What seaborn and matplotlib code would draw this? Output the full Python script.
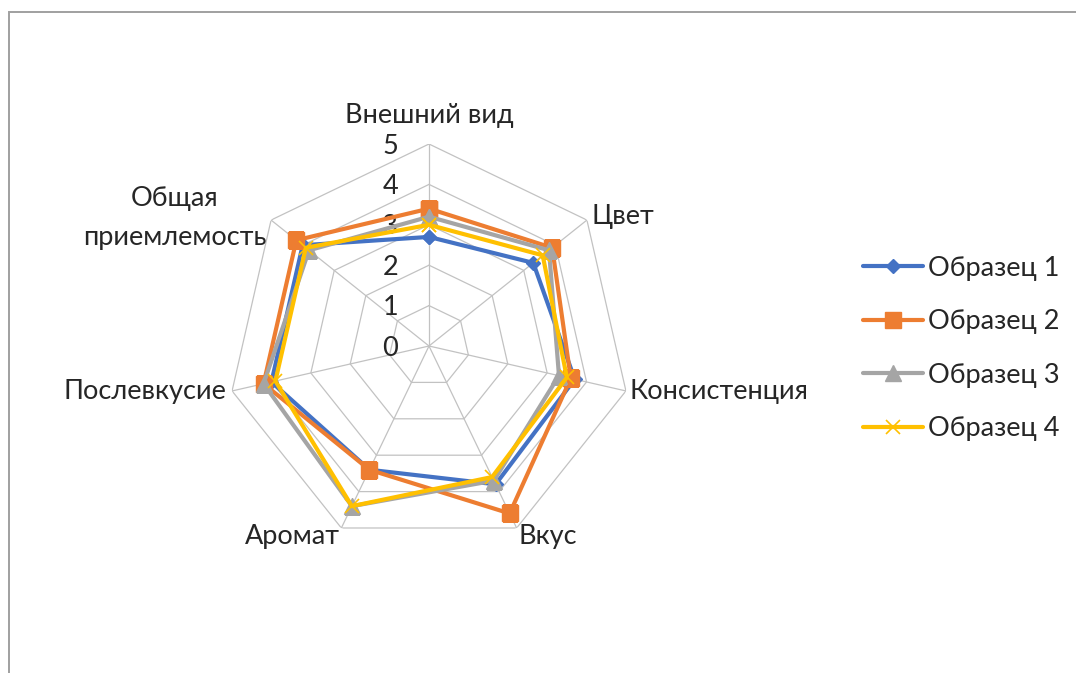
import numpy as np
import pandas as pd
import matplotlib
matplotlib.use("Agg")
import matplotlib.pyplot as plt
import seaborn as sns
from matplotlib.patches import Rectangle

# ---- data ----
categories = ["Внешний вид", "Цвет", "Консистенция", "Вкус", "Аромат",
              "Послевкусие", "Общая\nприемлемость"]
series_names = ["Образец 1", "Образец 2", "Образец 3", "Образец 4"]
sample1 = [2.7, 3.3, 3.7, 3.8, 3.4, 4.0, 4.0]
sample2 = [3.4, 3.9, 3.6, 4.6, 3.4, 4.2, 4.2]
sample3 = [3.2, 3.8, 3.3, 3.7, 4.4, 4.2, 3.8]
sample4 = [3.0, 3.6, 3.5, 3.6, 4.4, 3.9, 3.9]
radial_ticks = [0, 1, 2, 3, 4, 5]

# ---- style ----
sns.set_style("white")
plt.rcParams["font.family"] = ["Lato", "DejaVu Sans"]
TXT = "#262626"
FS = 19.5
PX = 0.72  # px -> pt at 100 dpi

fig = plt.figure(figsize=(10.76, 6.73), dpi=100)
ax = fig.add_axes([227 / 1076, 125 / 673, 404 / 1076, 404 / 673], projection="polar")
ax.set_theta_zero_location("N")
ax.set_theta_direction(-1)
ax.grid(False)
ax.spines["polar"].set_visible(False)
ax.patch.set_alpha(0)

n = len(categories)
theta = np.arange(n) * 2 * np.pi / n
theta_closed = np.append(theta, 2 * np.pi)

# polygon grid
for v in radial_ticks[1:]:
    ax.plot(theta_closed, [v] * (n + 1), color="#c2c2c2", lw=0.9, zorder=1)
for t in theta:
    ax.plot([t, t], [0, radial_ticks[-1]], color="#c2c2c2", lw=0.9, zorder=1)

colors = ["#4472C4", "#ED7D31", "#A5A5A5", "#FFC000"]
markers = ["D", "s", "^", "x"]
msizes = [7.5, 11, 11, 10]
mews = [1, 1, 1, 1.2]
for i, (name, vals) in enumerate(zip(series_names, [sample1, sample2, sample3, sample4])):
    df = pd.DataFrame({"theta": theta_closed, "r": list(vals) + [vals[0]]})
    sns.lineplot(data=df, x="theta", y="r", ax=ax, sort=False, estimator=None,
                 color=colors[i], linewidth=3.0, marker=markers[i],
                 markersize=msizes[i], markerfacecolor=colors[i],
                 markeredgecolor=colors[i], markeredgewidth=mews[i],
                 label=name, zorder=3 + i)

ax.set_ylim(0, radial_ticks[-1])
ax.set_xticks([])
ax.set_yticks([])
ax.set_xlabel("")
ax.set_ylabel("")

# radial tick labels
for v in radial_ticks:
    ax.annotate(str(v), xy=(0, v), xytext=(-31 * PX, -2 * PX),
                textcoords="offset points", ha="right", va="center",
                fontsize=FS, color=TXT)

# category labels
offsets = [(0, 29, "center"), (5, 4, "left"), (4, -1, "left"), (2, -9, "left"),
           (-1, -9, "right"), (-6, -1, "right"), (-5, 2, "right")]
for t, lab, (dx, dy, ha) in zip(theta, categories, offsets):
    ax.annotate(lab, xy=(t, radial_ticks[-1]), xytext=(dx * PX, dy * PX),
                textcoords="offset points", ha=ha, va="center",
                multialignment="center", fontsize=FS, color=TXT,
                linespacing=1.7)

handles, labels = ax.get_legend_handles_labels()
if ax.get_legend() is not None:
    ax.get_legend().remove()
fig.legend(handles, labels, loc="center left", bbox_to_anchor=(863 / 1076, 0.482),
           frameon=False, fontsize=FS, handlelength=2.2, handletextpad=0.2,
           labelspacing=1.05, borderpad=0, borderaxespad=0, labelcolor=TXT)

# chart area border
fig.add_artist(Rectangle((8.5 / 1076, -0.1), 1.2, (673 - 11.5) / 673 + 0.1,
                         transform=fig.transFigure, fill=False,
                         edgecolor="#a0a0a0", linewidth=1.4))

fig.savefig("out.png", dpi=100)
